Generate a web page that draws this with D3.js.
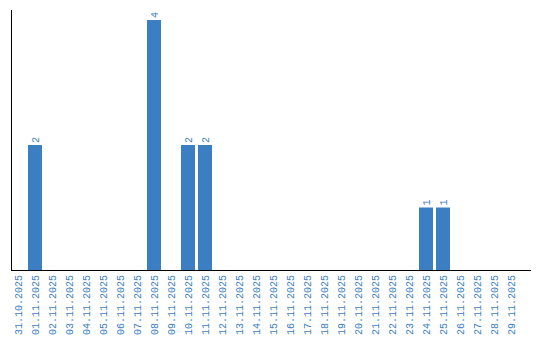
<!DOCTYPE html>
<html><head><meta charset="utf-8">
<script src="https://d3js.org/d3.v7.min.js"></script>
<style>body{margin:0;background:#fff;} svg{display:block;}</style>
</head><body>
<script>
const categories = ["31.10.2025","01.11.2025","02.11.2025","03.11.2025","04.11.2025","05.11.2025","06.11.2025","07.11.2025","08.11.2025","09.11.2025","10.11.2025","11.11.2025","12.11.2025","13.11.2025","14.11.2025","15.11.2025","16.11.2025","17.11.2025","18.11.2025","19.11.2025","20.11.2025","21.11.2025","22.11.2025","23.11.2025","24.11.2025","25.11.2025","26.11.2025","27.11.2025","28.11.2025","29.11.2025"];
const values = [0,2,0,0,0,0,0,0,4,0,2,2,0,0,0,0,0,0,0,0,0,0,0,0,1,1,0,0,0,0];

const W = 540, H = 340;
const color = "#3b7ec2";
const font = "Liberation Mono, monospace";
const svg = d3.select("body").append("svg").attr("width", W).attr("height", H);

const x = d3.scaleBand().domain(categories).range([11, 518]).paddingInner(3/17).paddingOuter(0);
const y = d3.scaleLinear().domain([0, 4]).range([270, 20]);

const data = categories.map((c, i) => ({c, v: values[i]}));

svg.selectAll("rect.bar").data(data.filter(d => d.v > 0)).enter().append("rect")
  .attr("class", "bar")
  .attr("x", d => x(d.c))
  .attr("y", d => y(d.v))
  .attr("width", x.bandwidth())
  .attr("height", d => y(0) - y(d.v))
  .attr("fill", color);

svg.selectAll("text.val").data(data.filter(d => d.v > 0)).enter().append("text")
  .attr("class", "val")
  .attr("transform", d => `translate(${x(d.c) + x.bandwidth()/2 + 3.5},${y(d.v) - 2}) rotate(-90)`)
  .attr("text-anchor", "start")
  .attr("font-family", font)
  .attr("font-size", 10)
  .attr("fill", color)
  .text(d => d.v);

// axes
svg.append("line").attr("x1", 11.5).attr("x2", 11.5).attr("y1", 10).attr("y2", 270.5).attr("stroke", "#000").attr("stroke-width", 1);
svg.append("line").attr("x1", 11).attr("x2", 531).attr("y1", 270.5).attr("y2", 270.5).attr("stroke", "#000").attr("stroke-width", 1);

svg.selectAll("text.lab").data(categories).enter().append("text")
  .attr("class", "lab")
  .attr("transform", c => `translate(${x(c) + x.bandwidth()/2 + 3.5},275) rotate(-90)`)
  .attr("text-anchor", "end")
  .attr("font-family", font)
  .attr("font-size", 10)
  .attr("fill", color)
  .text(c => c);
</script>
</body></html>
